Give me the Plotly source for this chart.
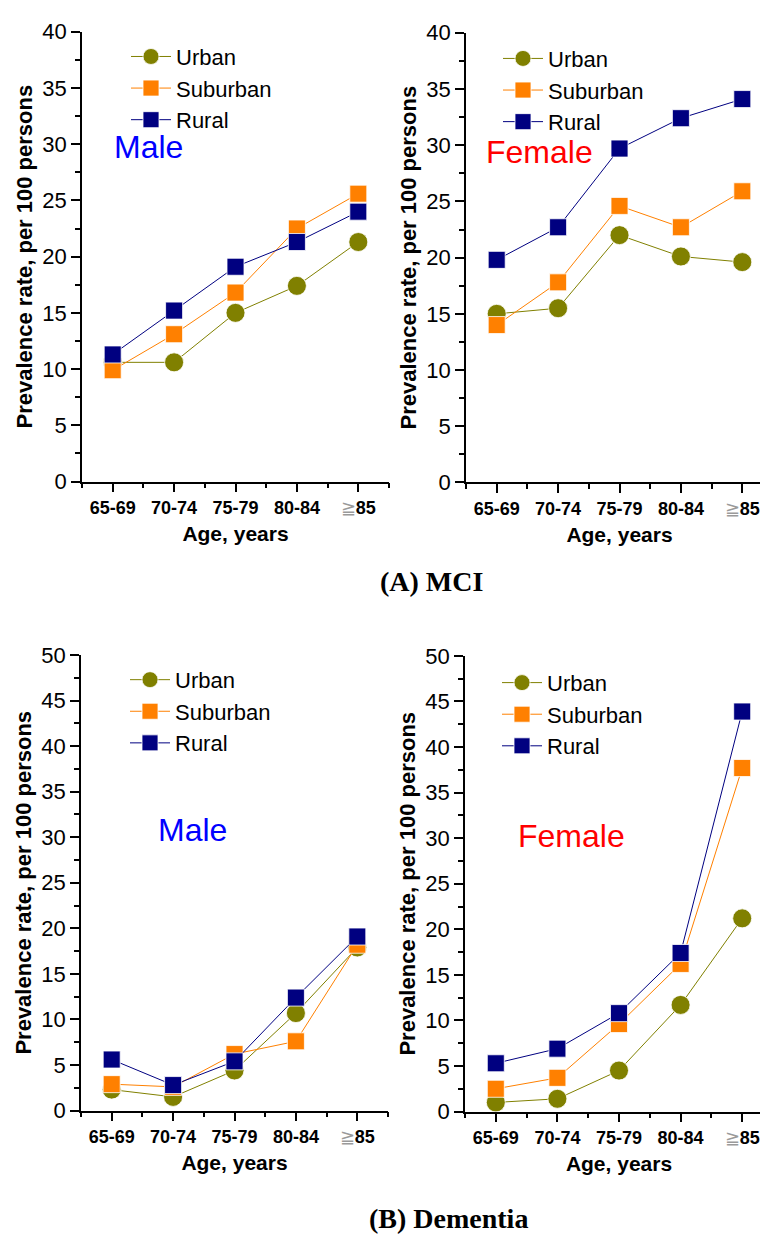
import plotly.graph_objects as go

W, H = 768, 1241

age_groups = ["65-69", "70-74", "75-79", "80-84", "≧85"]
age_labels = ["<b>65-69</b>", "<b>70-74</b>", "<b>75-79</b>", "<b>80-84</b>",
              "<span style='color:#9a9a9a;font-weight:normal'>≧</span><b>85</b>"]
areas = ["Urban", "Suburban", "Rural"]

# MCI prevalence, per 100 persons
mci_male_urban = [10.6, 10.6, 15.0, 17.4, 21.3]
mci_male_suburban = [9.9, 13.1, 16.8, 22.5, 25.6]
mci_male_rural = [11.3, 15.2, 19.1, 21.3, 24.0]

mci_female_urban = [15.0, 15.5, 22.0, 20.1, 19.6]
mci_female_suburban = [14.0, 17.8, 24.6, 22.7, 25.9]
mci_female_rural = [19.8, 22.7, 29.7, 32.4, 34.1]

# Dementia prevalence, per 100 persons
dem_male_urban = [2.3, 1.5, 4.4, 10.7, 17.9]
dem_male_suburban = [2.9, 2.6, 6.2, 7.6, 18.2]
dem_male_rural = [5.6, 2.8, 5.4, 12.4, 19.1]

dem_female_urban = [1.0, 1.4, 4.5, 11.7, 21.2]
dem_female_suburban = [2.5, 3.7, 9.6, 16.2, 37.7]
dem_female_rural = [5.3, 6.9, 10.8, 17.4, 43.9]

colors = {"Urban": "#808000", "Suburban": "#FF8000", "Rural": "#000080"}
symbols = {"Urban": "circle", "Suburban": "square", "Rural": "square"}
sizes = {"Urban": 19, "Suburban": 17, "Rural": 17}

SANS = "Liberation Sans, Arial, sans-serif"
SERIF = "Liberation Serif, Times New Roman, serif"


def px_x(v):
    return v / W


def px_y(v):
    return 1 - v / H


# per panel: series, y max, x domain px, y domain px (bottom, top), label, label colour, label pos, legend pos
panels = [
    dict(series=[mci_male_urban, mci_male_suburban, mci_male_rural], ymax=40,
         xd=(74, 381), yd=(471, 12), label="Male", lc="#0000FF", lpos=(140, 130), leg=(118, 16)),
    dict(series=[mci_female_urban, mci_female_suburban, mci_female_rural], ymax=40,
         xd=(458, 765), yd=(472, 13), label="Female", lc="#FF0000", lpos=(531, 135), leg=(490, 18)),
    dict(series=[dem_male_urban, dem_male_suburban, dem_male_rural], ymax=50,
         xd=(73, 380), yd=(1113, 648), label="Male", lc="#0000FF", lpos=(184, 827), leg=(117, 652)),
    dict(series=[dem_female_urban, dem_female_suburban, dem_female_rural], ymax=50,
         xd=(457, 765), yd=(1114, 649), label="Female", lc="#FF0000", lpos=(563, 833), leg=(489, 655)),
]

x_idx = list(range(len(age_groups)))

fig = go.Figure()
annotations = []

for i, p in enumerate(panels):
    n = "" if i == 0 else str(i + 1)
    leg_name = "legend" + n
    for area, vals in zip(areas, p["series"]):
        fig.add_trace(go.Scatter(
            x=x_idx, y=vals, name=area, mode="lines+markers",
            xaxis="x" + n, yaxis="y" + n, legend=leg_name,
            line=dict(color=colors[area], width=1),
            marker=dict(symbol=symbols[area], size=sizes[area], color=colors[area],
                        line=dict(color="white", width=0.8)),
        ))

    fig.layout["xaxis" + n] = dict(
        domain=[px_x(p["xd"][0]), px_x(p["xd"][1])],
        anchor="y" + n, range=[-0.5, 4.5],
        tickmode="array", tickvals=x_idx, ticktext=age_labels,
        ticks="outside", ticklen=9, tickwidth=1.5, tickcolor="black",
        minor=dict(tickvals=[k - 0.5 for k in range(len(age_groups) + 1)],
                   ticks="outside", ticklen=5, tickwidth=1.5, tickcolor="black"),
        showline=True, linecolor="black", linewidth=1.5,
        showgrid=False, zeroline=False,
        tickfont=dict(family=SANS, size=18, color="black"),
        title=dict(text="<b>Age, years</b>", font=dict(family=SANS, size=21, color="black"),
                   standoff=9),
    )
    fig.layout["yaxis" + n] = dict(
        domain=[px_y(p["yd"][0]), px_y(p["yd"][1])],
        anchor="x" + n, range=[0, p["ymax"]],
        tickmode="linear", tick0=0, dtick=5,
        ticks="outside", ticklen=9, tickwidth=1.5, tickcolor="black",
        minor=dict(dtick=2.5, ticks="outside", ticklen=5, tickwidth=1.5, tickcolor="black"),
        showline=True, linecolor="black", linewidth=1.5,
        showgrid=False, zeroline=False,
        tickfont=dict(family=SANS, size=22, color="black"),
        title=dict(text="<b>Prevalence rate, per 100 persons</b>",
                   font=dict(family=SANS, size=22, color="black"), standoff=4),
    )
    fig.layout[leg_name] = dict(
        x=px_x(p["leg"][0]), y=px_y(p["leg"][1]), xanchor="left", yanchor="top",
        bgcolor="rgba(0,0,0,0)", font=dict(family=SANS, size=22, color="black"),
        itemwidth=40, tracegroupgap=0,
    )
    annotations.append(dict(
        text=p["label"], x=px_x(p["lpos"][0]), y=px_y(p["lpos"][1]),
        xref="paper", yref="paper", xanchor="center", yanchor="middle", showarrow=False,
        font=dict(family=SANS, size=32, color=p["lc"]),
    ))

annotations.append(dict(text="<b>(A) MCI</b>", x=px_x(423), y=px_y(573), xref="paper", yref="paper",
                        xanchor="center", yanchor="middle", showarrow=False,
                        font=dict(family=SERIF, size=28, color="black")))
annotations.append(dict(text="<b>(B) Dementia</b>", x=px_x(440), y=px_y(1223), xref="paper", yref="paper",
                        xanchor="center", yanchor="middle", showarrow=False,
                        font=dict(family=SERIF, size=28, color="black")))

fig.update_layout(
    width=W, height=H,
    margin=dict(l=0, r=0, t=0, b=0),
    paper_bgcolor="white", plot_bgcolor="white",
    annotations=annotations,
    showlegend=True,
)

fig.write_html("out.html")
